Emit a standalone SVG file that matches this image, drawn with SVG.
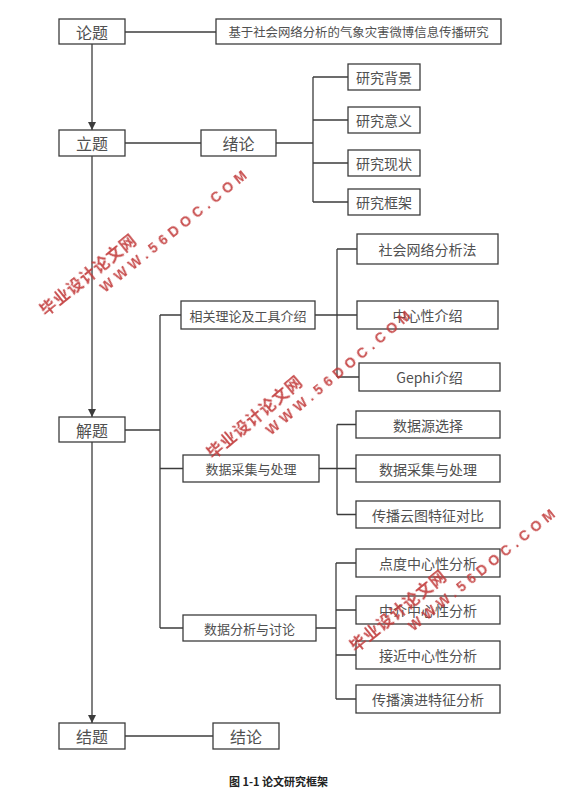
<svg xmlns="http://www.w3.org/2000/svg" width="587" height="806" viewBox="0 0 587 806">
<style>
.box{fill:#fff;stroke:#3c3c3c;stroke-width:1.3}
.t{font-family:"Noto Sans CJK SC","Noto Sans",sans-serif;fill:#505050;text-anchor:middle;dominant-baseline:central}
.big{font-size:16px}
.mid{font-size:14px}
.sm{font-size:13px}
.ln{stroke:#3c3c3c;stroke-width:1.3;fill:none}
.wmc{font-family:"Noto Sans CJK SC",sans-serif;font-weight:bold;font-size:16px;fill:#c23a3a;letter-spacing:1px}
.wme{font-family:"Liberation Sans",Arial,sans-serif;font-weight:bold;font-size:14px;fill:#c23a3a}
</style>
<defs>
<marker id="arr" markerWidth="8" markerHeight="10" refX="8" refY="5" orient="auto" markerUnits="userSpaceOnUse">
<path d="M0,1 L8,5 L0,9 Z" fill="#3c3c3c"/>
</marker>
</defs>
<rect width="587" height="806" fill="#fff"/>
<g id="connectors">
<path class="ln" d="M125,32 H216"/>
<path class="ln" d="M92,44 V130" marker-end="url(#arr)"/>
<path class="ln" d="M125,143 H201"/>
<path class="ln" d="M276,143 H313"/>
<path class="ln" d="M313,77 V202 M313,77 H348 M313,120 H348 M313,163 H348 M313,202 H348"/>
<path class="ln" d="M92,156 V417" marker-end="url(#arr)"/>
<path class="ln" d="M125,430 H160"/>
<path class="ln" d="M160,315 V628 M160,315 H181 M160,468.5 H183 M160,628 H183"/>
<path class="ln" d="M315,315 H357 M337,249 V377 M337,249 H357 M337,377 H359"/>
<path class="ln" d="M319,468.5 H356 M337,424.5 V514.5 M337,424.5 H356 M337,514.5 H356"/>
<path class="ln" d="M316,628 H336 M336,563 V699 M336,563 H356 M336,610 H356 M336,655 H356 M336,699 H356"/>
<path class="ln" d="M92,442 V723" marker-end="url(#arr)"/>
<path class="ln" d="M125,736 H213"/>
</g>
<g id="n_lunti"><rect class="box" x="59" y="19" width="66" height="25"/><text class="t big" x="92" y="31.5">论题</text></g>
<g id="n_title"><rect class="box" x="216" y="19" width="285" height="25"/><text class="t" style="font-size:12.4px" x="358.5" y="31.5">基于社会网络分析的气象灾害微博信息传播研究</text></g>
<g id="n_liti"><rect class="box" x="59" y="130" width="66" height="26"/><text class="t big" x="92" y="143">立题</text></g>
<g id="n_xulun"><rect class="box" x="201" y="130" width="75" height="26"/><text class="t big" x="238.5" y="143">绪论</text></g>
<g id="n_bg"><rect class="box" x="348" y="64" width="72" height="26"/><text class="t mid" x="384" y="77">研究背景</text></g>
<g id="n_yy"><rect class="box" x="348" y="107" width="72" height="26"/><text class="t mid" x="384" y="120">研究意义</text></g>
<g id="n_xz"><rect class="box" x="348" y="150" width="72" height="26"/><text class="t mid" x="384" y="163">研究现状</text></g>
<g id="n_kj"><rect class="box" x="348" y="189" width="72" height="26"/><text class="t mid" x="384" y="202">研究框架</text></g>
<g id="n_jieti"><rect class="box" x="59" y="417" width="66" height="25"/><text class="t big" x="92" y="429.5">解题</text></g>
<g id="n_xgll"><rect class="box" x="181" y="301" width="134" height="28"/><text class="t sm" x="248" y="315">相关理论及工具介绍</text></g>
<g id="n_shwl"><rect class="box" x="357" y="234" width="141" height="30"/><text class="t mid" x="427.5" y="249">社会网络分析法</text></g>
<g id="n_zxx"><rect class="box" x="357" y="301" width="141" height="28"/><text class="t mid" x="427.5" y="315">中心性介绍</text></g>
<g id="n_gephi"><rect class="box" x="359" y="363" width="141" height="28"/><text class="t mid" x="429.5" y="377">Gephi介绍</text></g>
<g id="n_sjcj"><rect class="box" x="183" y="455" width="136" height="27"/><text class="t sm" x="251" y="468.5">数据采集与处理</text></g>
<g id="n_sjy"><rect class="box" x="356" y="411" width="144" height="27"/><text class="t mid" x="428" y="424.5">数据源选择</text></g>
<g id="n_sjcj2"><rect class="box" x="356" y="455" width="144" height="27"/><text class="t mid" x="428" y="468.5">数据采集与处理</text></g>
<g id="n_cbyt"><rect class="box" x="356" y="501" width="144" height="27"/><text class="t mid" x="428" y="514.5">传播云图特征对比</text></g>
<g id="n_sjfx"><rect class="box" x="183" y="615" width="133" height="26"/><text class="t sm" x="249.5" y="628">数据分析与讨论</text></g>
<g id="n_dd"><rect class="box" x="356" y="549" width="144" height="28"/><text class="t mid" x="428" y="563">点度中心性分析</text></g>
<g id="n_zj"><rect class="box" x="356" y="596" width="144" height="28"/><text class="t mid" x="428" y="610">中介中心性分析</text></g>
<g id="n_jj"><rect class="box" x="356" y="641" width="144" height="28"/><text class="t mid" x="428" y="655">接近中心性分析</text></g>
<g id="n_cbyj"><rect class="box" x="356" y="685" width="144" height="28"/><text class="t mid" x="428" y="699">传播演进特征分析</text></g>
<g id="n_jieti2"><rect class="box" x="59" y="723" width="66" height="26"/><text class="t big" x="92" y="736">结题</text></g>
<g id="n_jielun"><rect class="box" x="213" y="723" width="66" height="26"/><text class="t big" x="246" y="736">结论</text></g>
<g id="caption"><text x="278.5" y="781" style="font-family:'Noto Sans CJK SC',sans-serif;font-size:11px;font-weight:bold;fill:#222;text-anchor:middle;dominant-baseline:central">图 1-1  论文研究框架</text></g>
<g id="watermarks" opacity="0.9">
<g transform="translate(48,307) rotate(-39)"><text class="wmc" x="-8" y="6">毕业设计论文网</text><text class="wme" x="53" y="25" textLength="184" lengthAdjust="spacing">WWW.56DOC.COM</text></g>
<g transform="translate(215,450) rotate(-40)"><text class="wmc" x="-8" y="6">毕业设计论文网</text><text class="wme" x="52" y="25" textLength="184" lengthAdjust="spacing">WWW.56DOC.COM</text></g>
<g transform="translate(358,643) rotate(-39)"><text class="wmc" x="-8" y="6">毕业设计论文网</text><text class="wme" x="50" y="26" textLength="184" lengthAdjust="spacing">WWW.56DOC.COM</text></g>
</g>
</svg>
